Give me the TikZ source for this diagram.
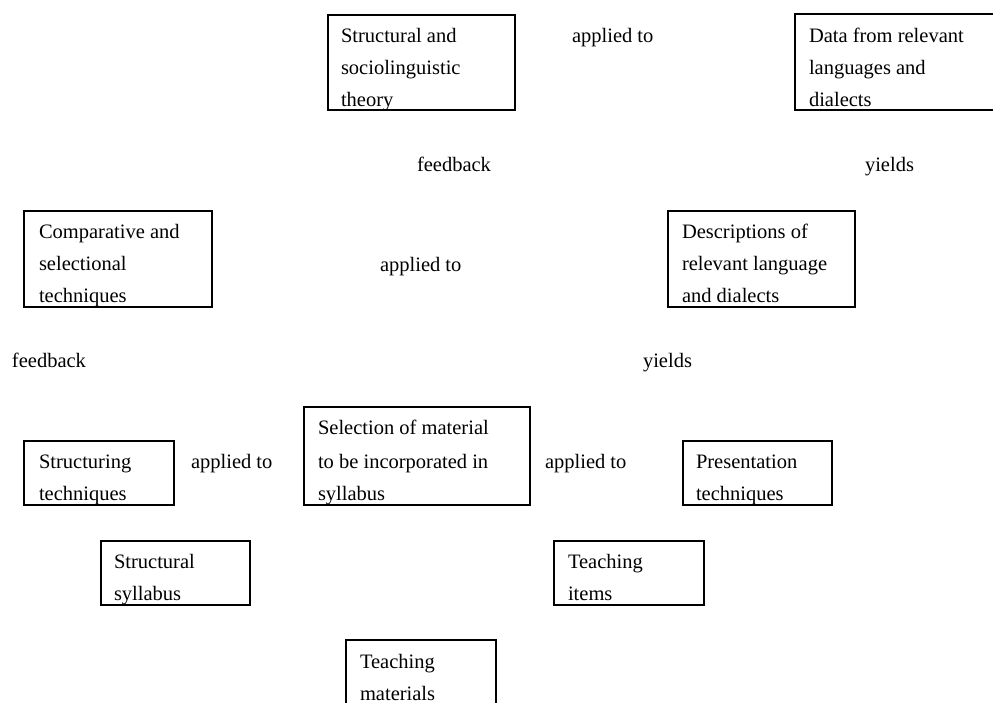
\documentclass[tikz,border=0pt]{standalone}
\usepackage{fontspec}
\setmainfont{Liberation Serif}
\begin{document}
\begin{tikzpicture}[x=1pt,y=-1pt,
  box/.style={draw=black, line width=2pt, rectangle, inner sep=0pt, outer sep=0pt, anchor=north west},
  txt/.style={anchor=base west, inner sep=0pt, outer sep=0pt, font=\fontsize{20.5}{32}\selectfont}]
\useasboundingbox (0,0) rectangle (993,702);
\clip (0,0) rectangle (993,702);
% boxes (outer edges inset by half line width)
\node[box, minimum width=187, minimum height=95] (theory) at (328,15) {};
\node[box, minimum width=214, minimum height=96] (data) at (795,14) {};
\node[box, minimum width=188, minimum height=96] (comp) at (24,211) {};
\node[box, minimum width=187, minimum height=96] (desc) at (668,211) {};
\node[box, minimum width=150, minimum height=64] (structuring) at (24,441) {};
\node[box, minimum width=226, minimum height=98] (selection) at (304,407) {};
\node[box, minimum width=149, minimum height=64] (presentation) at (683,441) {};
\node[box, minimum width=149, minimum height=64] (structsyl) at (101,541) {};
\node[box, minimum width=150, minimum height=64] (items) at (554,541) {};
\node[box, minimum width=150, minimum height=90] (materials) at (346,640) {};
% box texts
\node[txt] (t1a) at (341,42) {Structural and};
\node[txt] (t1b) at (341,74) {sociolinguistic};
\node[txt] (t1c) at (341,106) {theory};
\node[txt] (t2a) at (809,42) {Data from relevant};
\node[txt] (t2b) at (809,74) {languages and};
\node[txt] (t2c) at (809,106) {dialects};
\node[txt] (t3a) at (39,238) {Comparative and};
\node[txt] (t3b) at (39,270) {selectional};
\node[txt] (t3c) at (39,302) {techniques};
\node[txt] (t4a) at (682,238) {Descriptions of};
\node[txt] (t4b) at (682,270) {relevant language};
\node[txt] (t4c) at (682,302) {and dialects};
\node[txt] (t5a) at (39,468) {Structuring};
\node[txt] (t5b) at (39,500) {techniques};
\node[txt] (t6a) at (318,434) {Selection of material};
\node[txt] (t6b) at (318,468) {to be incorporated in};
\node[txt] (t6c) at (318,500) {syllabus};
\node[txt] (t7a) at (696,468) {Presentation};
\node[txt] (t7b) at (696,500) {techniques};
\node[txt] (t8a) at (114,568) {Structural};
\node[txt] (t8b) at (114,600) {syllabus};
\node[txt] (t9a) at (568,568) {Teaching};
\node[txt] (t9b) at (568,600) {items};
\node[txt] (t10a) at (360,668) {Teaching};
\node[txt] (t10b) at (360,700) {materials};
% free labels
\node[txt] (l1) at (572,42) {applied to};
\node[txt] (l2) at (417,171) {feedback};
\node[txt] (l3) at (865,171) {yields};
\node[txt] (l4) at (380,271) {applied to};
\node[txt] (l5) at (12,367) {feedback};
\node[txt] (l6) at (643,367) {yields};
\node[txt] (l7) at (191,468) {applied to};
\node[txt] (l8) at (545,468) {applied to};
\end{tikzpicture}
\end{document}
